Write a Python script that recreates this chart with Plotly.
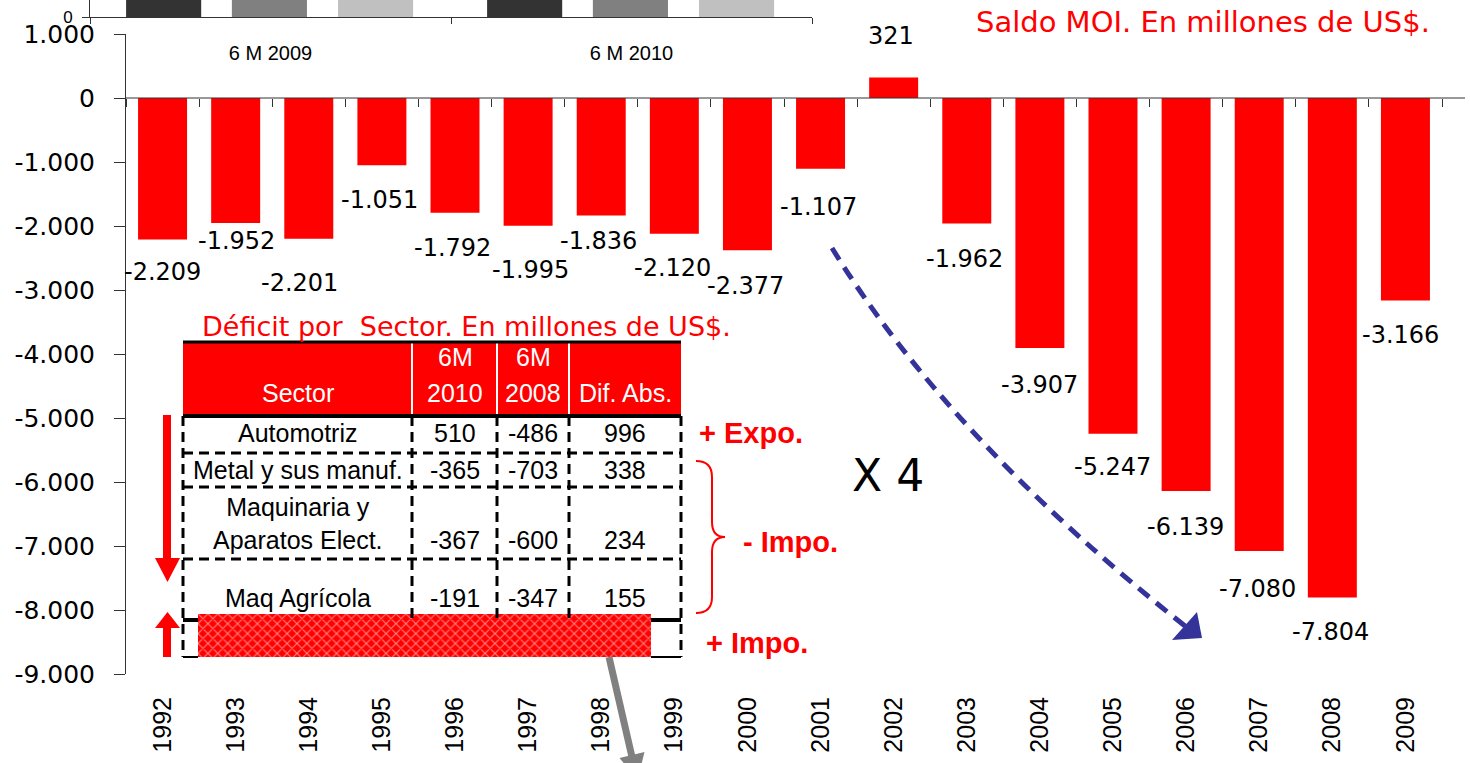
import plotly.graph_objects as go

# ---------------- data ----------------
years = ["1992", "1993", "1994", "1995", "1996", "1997", "1998", "1999", "2000",
         "2001", "2002", "2003", "2004", "2005", "2006", "2007", "2008", "2009"]
saldo_moi = [-2209, -1952, -2201, -1051, -1792, -1995, -1836, -2120, -2377,
             -1107, 321, -1962, -3907, -5247, -6139, -7080, -7804, -3166]

y_tick_vals = [1000, 0, -1000, -2000, -3000, -4000, -5000, -6000, -7000, -8000, -9000]
y_tick_text = ["1.000", "0", "-1.000", "-2.000", "-3.000", "-4.000", "-5.000",
               "-6.000", "-7.000", "-8.000", "-9.000"]

# inset (cut off at the top in the picture)
inset_cats = ["6 M 2009", "6 M 2010"]
inset_dark = [5200, 6400]
inset_mid = [6800, 8100]
inset_light = [1600, 1700]

# sector table
table_header_top = ["", "6M", "6M", ""]
table_header_bot = ["Sector", "2010", "2008", "Dif. Abs."]
sectors = ["Automotriz", "Metal y sus manuf.", "Maquinaria y<br>Aparatos Elect.", "Maq Agrícola"]
m6_2010 = [510, -365, -367, -191]
m6_2008 = [-486, -703, -600, -347]
dif_abs = [996, 338, 234, 155]

# ---------------- styles / positions ----------------
W, H = 1470, 763
RED = "#FF0000"
AX = "#333333"
label_dy = [33, 18, 44, 35, 35, 44, 25, 34, 36, 38, -41, 35, 37, 33, 36, 38, 35, 34]
label_dx = [0, 1, -9, -2, -3, 2, -3, -2, -2, -2, -3, -2, 0, -1, -1, -2, -2, -5]

TFONT = "Liberation Sans"


def fmt(v):
    return f"{v:,}".replace(",", ".")


def px_x(x):
    return x / W


def px_y(y):
    return 1 - y / H


fig = go.Figure()

fig.add_trace(go.Bar(x=years, y=saldo_moi, xaxis="x", yaxis="y", width=0.67,
                     marker=dict(color=RED, line=dict(width=0)),
                     showlegend=False, hoverinfo="x+y"))
# carrier for the zero-line axis with boundary ticks
fig.add_trace(go.Scatter(x=years, y=saldo_moi, xaxis="x2", yaxis="y", mode="markers",
                         marker=dict(opacity=0), showlegend=False, hoverinfo="skip"))

# inset bars
for vals, col, off in [(inset_dark, "#333333", -0.400), (inset_mid, "#808080", -0.107),
                       (inset_light, "#C0C0C0", 0.187)]:
    fig.add_trace(go.Bar(x=inset_cats, y=vals, xaxis="x3", yaxis="y3", width=0.208,
                         offset=off, marker=dict(color=col, line=dict(width=0)),
                         showlegend=False))

# hatched box (pixel overlay axes)
hx0, hx1, hy0, hy1 = 198, 651, 614, 657
fig.add_trace(go.Scatter(x=[hx0, hx1, hx1, hx0, hx0], y=[hy0, hy0, hy1, hy1, hy0],
                         xaxis="x5", yaxis="y5", mode="none", fill="toself",
                         fillcolor=RED,
                         fillpattern=dict(shape="x", fgcolor="white", bgcolor=RED,
                                          size=7, solidity=0.3),
                         showlegend=False, hoverinfo="skip"))

x_dom = [px_x(126), px_x(1442)]
y_dom = [px_y(674), px_y(34)]

shapes = []


def seg(x0, y0, x1, y1, color="black", width=1, dash="solid"):
    shapes.append(dict(type="line", xref="x5", yref="y5", x0=x0, y0=y0, x1=x1, y1=y1,
                       line=dict(color=color, width=width, dash=dash), layer="above"))


def poly(path, fill, line_color=None, width=0):
    shapes.append(dict(type="path", xref="x5", yref="y5", path=path, fillcolor=fill,
                       line=dict(color=line_color or fill, width=width), layer="above"))


# zero line
shapes.append(dict(type="line", xref="paper", yref="y", x0=px_x(126), x1=px_x(1465),
                   y0=0, y1=0, line=dict(color=AX, width=1), layer="above"))

# ---- table ----
T_L, T_R = 183, 681
cols = [183, 412, 497, 569, 681]
H_TOP, H_BOT = 342, 416
row_lines = [453, 487, 559]
LAST_TOP, T_BOT = 620, 657
DASH = "10px,6px"

shapes.append(dict(type="rect", xref="x5", yref="y5", x0=T_L, x1=T_R, y0=H_TOP, y1=H_BOT,
                   fillcolor=RED, line=dict(width=0), layer="above"))
for cx in cols[1:4]:
    seg(cx, H_TOP, cx, H_BOT, "white", 2)
seg(T_L, H_TOP, T_R, H_TOP, "black", 3)
seg(T_L, H_BOT, T_R, H_BOT, "black", 4)
for ry in row_lines:
    seg(T_L, ry, T_R, ry, "black", 3, DASH)
seg(T_L, LAST_TOP, hx0, LAST_TOP, "black", 4)
seg(hx1, LAST_TOP, T_R, LAST_TOP, "black", 4)
seg(T_L, T_BOT, hx0, T_BOT, "black", 2)
seg(hx1, T_BOT, T_R, T_BOT, "black", 2)
seg(T_L, H_BOT, T_L, T_BOT, "black", 3, DASH)
seg(T_R, H_BOT, T_R, T_BOT, "black", 3, DASH)
for cx in cols[1:4]:
    seg(cx, H_BOT, cx, LAST_TOP, "black", 3, DASH)

# red arrows on the left of the table
shapes.append(dict(type="rect", xref="x5", yref="y5", x0=163, x1=171, y0=415, y1=560,
                   fillcolor=RED, line=dict(width=0), layer="above"))
poly("M 155,558 L 180,558 L 167.5,582 Z", RED)
poly("M 155,628 L 180,628 L 167.5,612 Z", RED)
shapes.append(dict(type="rect", xref="x5", yref="y5", x0=163, x1=171, y0=626, y1=657,
                   fillcolor=RED, line=dict(width=0), layer="above"))

# brace
shapes.append(dict(type="path", xref="x5", yref="y5",
                   path="M 696,461 Q 712,461 712,477 L 712,522 Q 712,537 725,537 "
                        "Q 712,537 712,552 L 712,597 Q 712,613 696,613",
                   line=dict(color=RED, width=2), layer="above"))

# blue dashed curved arrow
shapes.append(dict(type="path", xref="x5", yref="y5", path="M 832,248 Q 950,440 1185,626",
                   line=dict(color="#333399", width=5, dash="14px,9px"), layer="above"))
poly("M 1202,638 L 1172,640 L 1197,612 Z", "#333399")

# grey arrow
seg(609, 657, 632, 757, "#808080", 7)
poly("M 619.5,758 L 644.5,752 L 637.6,780 Z", "#808080")

annotations = []


def txt(x, y, text, size, color="black", family="DejaVu Sans", bold=False, **kw):
    annotations.append(dict(xref="x5", yref="y5", x=x, y=y, text=f"<b>{text}</b>" if bold else text,
                            showarrow=False, xanchor="center", yanchor="middle",
                            font=dict(family=family, size=size, color=color), **kw))


# bar labels (x given as category index)
for i, (v, dx, dy) in enumerate(zip(saldo_moi, label_dx, label_dy)):
    annotations.append(dict(x=i, y=v, xref="x", yref="y", text=fmt(v), showarrow=False,
                            xshift=dx, yshift=-dy, xanchor="center", yanchor="middle",
                            font=dict(family="DejaVu Sans", size=24, color="black")))

txt(1203, 22, "Saldo MOI. En millones de US$.", 29, RED)
txt(466, 326, "Déficit por  Sector. En millones de US$.", 27, RED)

col_cx = [297.5, 455, 533, 625]
for cx, t1, t2 in zip(col_cx, table_header_top, table_header_bot):
    if t1:
        txt(cx, 357, t1, 25, "white", TFONT)
    txt(cx, 393, t2, 25, "white", TFONT)

name_y = [433, 470, 523.5, 598]
val_y = [433, 470, 540, 598]
for i in range(len(sectors)):
    txt(col_cx[0], name_y[i], sectors[i], 25, "black", TFONT)
    txt(col_cx[1], val_y[i], str(m6_2010[i]), 25, "black", TFONT)
    txt(col_cx[2], val_y[i], str(m6_2008[i]), 25, "black", TFONT)
    txt(col_cx[3], val_y[i], str(dif_abs[i]), 25, "black", TFONT)

txt(751, 433, "+ Expo.", 29, RED, "Liberation Sans", bold=True)
txt(790, 542, "- Impo.", 29, RED, "Liberation Sans", bold=True)
txt(757, 643, "+ Impo.", 29, RED, "Liberation Sans", bold=True)
txt(888, 475, "X 4", 44, "black")

fig.update_layout(
    width=W, height=H,
    margin=dict(l=0, r=0, t=0, b=0, pad=0, autoexpand=False),
    paper_bgcolor="white", plot_bgcolor="rgba(0,0,0,0)",
    barmode="overlay",
    showlegend=False,
    xaxis=dict(domain=x_dom, anchor="y", type="category", range=[-0.5, 17.5],
               automargin=False,
               showline=False, ticks="", showgrid=False, zeroline=False,
               tickangle=-90, ticklabelstandoff=17,
               tickfont=dict(family="Liberation Sans", size=25, color="black")),
    xaxis2=dict(domain=x_dom, overlaying="x", anchor="free", position=px_y(98),
                type="category", range=[-0.5, 17.5], side="bottom", automargin=False,
                showline=False, ticks="outside", ticklen=8, tickcolor=AX,
                tickson="boundaries", showticklabels=False, showgrid=False, zeroline=False),
    yaxis=dict(domain=y_dom, anchor="x", range=[-9000, 1000], tickvals=y_tick_vals,
               ticktext=y_tick_text, showline=True, linecolor=AX, linewidth=1,
               automargin=False,
               ticks="outside", ticklen=11, tickcolor=AX, showgrid=False, zeroline=False,
               ticklabelstandoff=14,
               tickfont=dict(family="DejaVu Sans", size=25, color="black")),
    xaxis3=dict(domain=[px_x(90), px_x(812)], anchor="y3", type="category",
                range=[-0.5, 1.5], showline=True, linecolor=AX, linewidth=1,
                automargin=False,
                ticks="outside", ticklen=6, tickcolor=AX, tickson="boundaries",
                showgrid=False, zeroline=False, ticklabelstandoff=18,
                tickfont=dict(family="Liberation Sans", size=20, color="black")),
    yaxis3=dict(domain=[px_y(17), 1.0], anchor="x3", range=[0, 800], tickvals=[0],
                ticktext=["0"], showline=True, linecolor=AX, linewidth=1,
                automargin=False,
                ticks="outside", ticklen=7, tickcolor=AX, showgrid=False, zeroline=False,
                ticklabelstandoff=6,
                tickfont=dict(family="Liberation Sans", size=17, color="black")),
    xaxis5=dict(domain=[0, 1], anchor="y5", range=[0, W], visible=False, fixedrange=True,
                automargin=False),
    yaxis5=dict(domain=[0, 1], anchor="x5", range=[H, 0], visible=False, fixedrange=True,
                automargin=False),
    shapes=shapes,
    annotations=annotations,
)

fig.write_html("out.html", config={"displayModeBar": False},
               post_script="document.body.style.margin='0';document.body.style.overflow='hidden';")
